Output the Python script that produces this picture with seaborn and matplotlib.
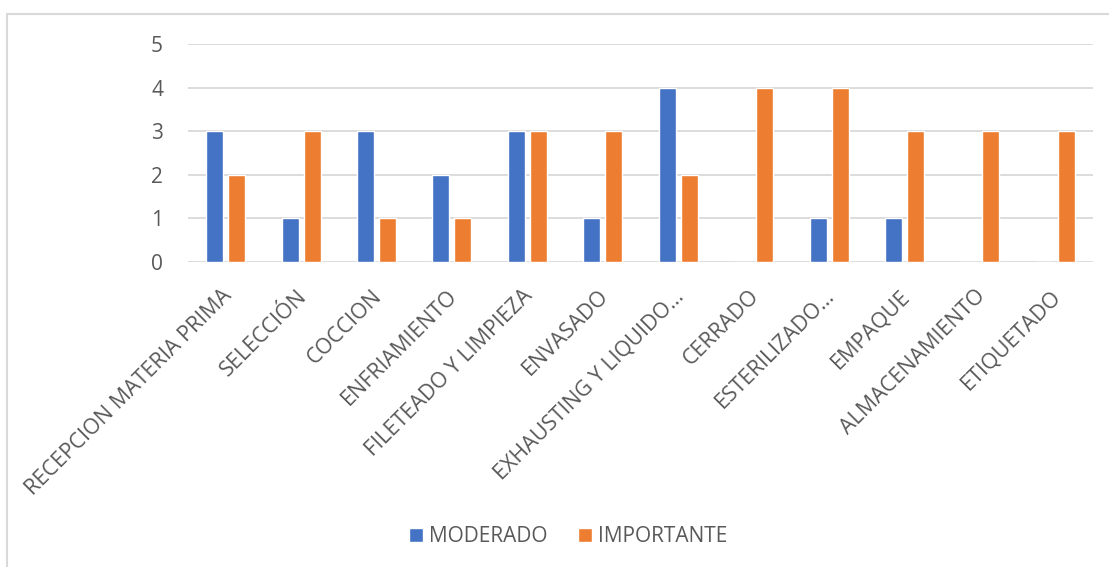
import matplotlib
matplotlib.use("Agg")
import matplotlib.pyplot as plt
import matplotlib.transforms as mtransforms
import seaborn as sns
import pandas as pd
from matplotlib.patches import Rectangle

categorias = ["RECEPCION MATERIA PRIMA", "SELECCIÓN", "COCCION", "ENFRIAMIENTO",
              "FILETEADO Y LIMPIEZA", "ENVASADO", "EXHAUSTING Y LIQUIDO…",
              "CERRADO", "ESTERILIZADO…", "EMPAQUE", "ALMACENAMIENTO", "ETIQUETADO"]
moderado = [3, 1, 3, 2, 3, 1, 4, 0, 1, 1, 0, 0]
importante = [2, 3, 1, 1, 3, 3, 2, 4, 4, 3, 3, 3]
series = ["MODERADO", "IMPORTANTE"]
colores = ["#4472C4", "#ED7D31"]

df = pd.DataFrame({
    "etapa": categorias * 2,
    "valor": moderado + importante,
    "nivel": [series[0]] * len(categorias) + [series[1]] * len(categorias),
})

sns.set_theme(style="white")
plt.rcParams["font.family"] = ["Open Sans", "DejaVu Sans"]
texto = "#595959"

W, H = 1109, 567
fig = plt.figure(figsize=(W / 100, H / 100), dpi=100)
ax = fig.add_axes([188 / W, 1 - 262 / H, (1093 - 188) / W, (262 - 44) / H])

sns.barplot(data=df, x="etapa", y="valor", hue="nivel", order=categorias,
            hue_order=series, palette=colores, width=0.584, gap=0.23,
            saturation=1, ax=ax, legend=True)

ax.set_ylim(0, 5)
ax.set_xlim(-0.5, len(categorias) - 0.5)
ax.set_yticks(range(0, 6))
ax.yaxis.grid(True, color="#d9d9d9", linewidth=1.3)
ax.set_axisbelow(True)
for s in ax.spines.values():
    s.set_visible(False)
ax.set_xlabel("")
ax.set_ylabel("")
ax.tick_params(axis="y", length=0, pad=18, labelsize=15, labelcolor=texto)
ax.tick_params(axis="x", length=0, pad=17, labelsize=15.5, labelcolor=texto)
shift = mtransforms.ScaledTranslation(-0.05, 0, fig.dpi_scale_trans)
for lbl in ax.get_xticklabels():
    lbl.set_rotation(45)
    lbl.set_ha("right")
    lbl.set_va("top")
    lbl.set_rotation_mode("anchor")
    lbl.set_transform(lbl.get_transform() + shift)

leg = ax.legend(loc="center", bbox_to_anchor=(568 / W, 1 - 537 / H),
                bbox_transform=fig.transFigure, ncol=2, frameon=False,
                fontsize=15, handlelength=0.67, handleheight=0.67,
                handletextpad=0.3, columnspacing=1.45, labelcolor=texto)

# chart area frame
fig.patches.append(Rectangle((7 / W, -0.05), 1.1, 1 - 14 / H + 0.05,
                             transform=fig.transFigure, fill=False,
                             edgecolor="#d9d9d9", linewidth=1.5))

fig.savefig("out.png", dpi=100, facecolor="white")
